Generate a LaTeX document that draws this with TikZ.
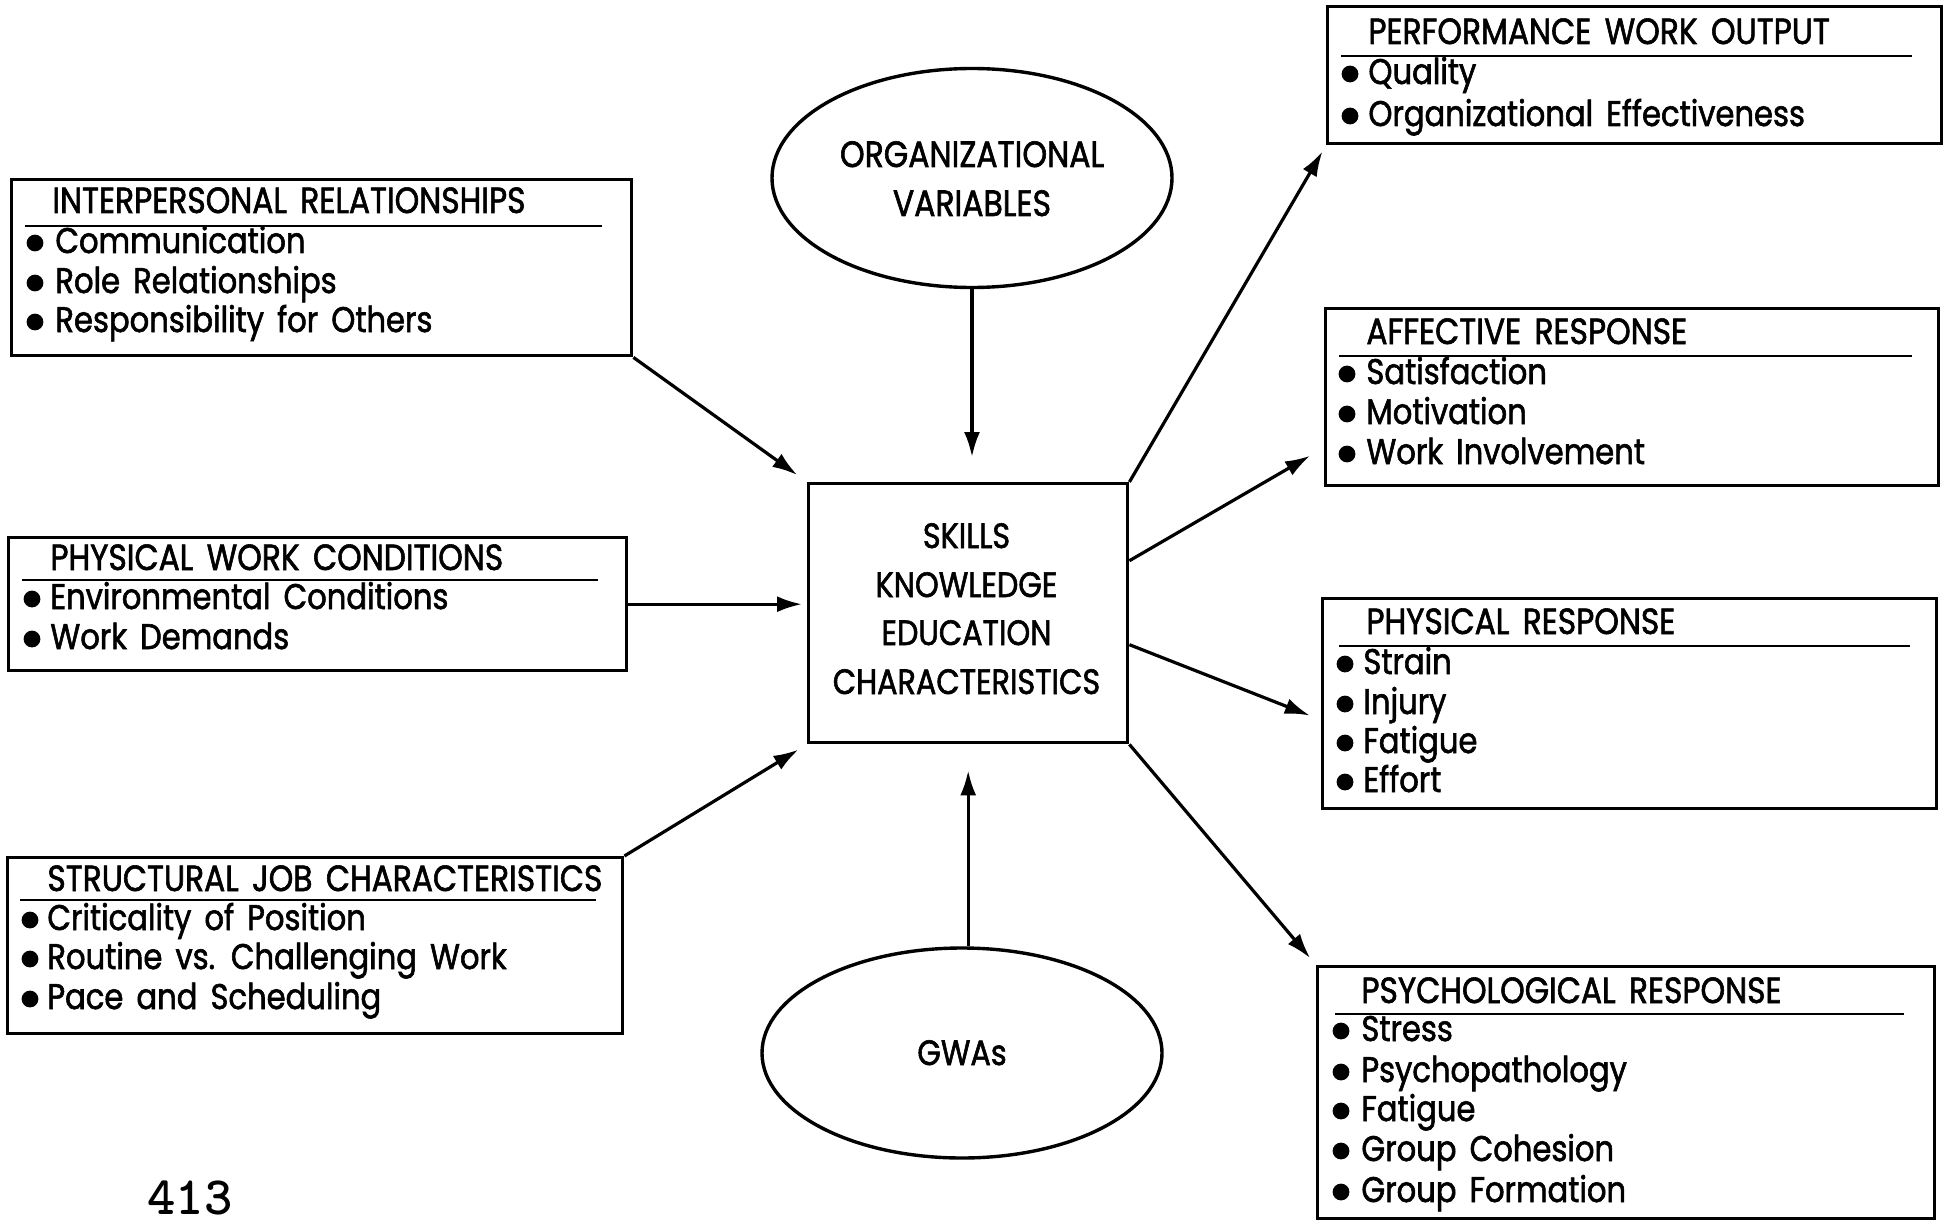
\documentclass[tikz,border=0pt]{standalone}
\usepackage{fontspec}
\setmainfont{Poppins}[WordSpace=1.6, FakeStretch=0.86, RawFeature={embolden=1.6}]
\usetikzlibrary{arrows.meta,shapes.geometric,calc}

\tikzset{
  panel/.style={draw, line width=1.7pt, inner sep=0pt, anchor=north west},
  heading/.style={anchor=base west, inner sep=0pt, font=\fontsize{18.2}{20}\selectfont},
  entry/.style={anchor=base west, inner sep=0pt, font=\fontsize{17.8}{20}\selectfont},
  core/.style={anchor=base, inner sep=0pt, font=\fontsize{17.6}{20}\selectfont},
  oval/.style={draw, ellipse, line width=1.7pt, inner sep=0pt},
  link/.style={line width=1.6pt, -{Latex[length=12.5pt,width=8pt]}},
  rulestyle/.style={line width=1.1pt}
}

% framed panel from its top-left to its bottom-right corner (pixel grid)
\newcommand{\panelbox}[5]{%
  \node[panel, minimum width={(#4-#2)*0.5pt}, minimum height={(#5-#3)*0.5pt}] (#1) at (#2,#3) {};}

% bulleted entries: prefix, bullet x, text x, list of y/text
\newcommand{\entries}[4]{%
  \foreach \yy/\lbl [count=\k] in {#4} {
    \fill (#2,\yy+2) circle[radius=4.2pt];
    \node[entry] (#1-\k) at (#3,\yy+12) {\lbl};
  }}

\begin{document}
\begin{tikzpicture}[x=0.5pt,y=-0.5pt]
\useasboundingbox (0,0) rectangle (1947,1225);

% ---------- left panels ----------
\panelbox{ir}{10}{178}{630}{354}
\node[heading] (ir-t) at (52,213) {INTERPERSONAL RELATIONSHIPS};
\draw[rulestyle] (25,226) -- (602,226);
\entries{ir}{35}{55}{241/Communication, 281/Role Relationships, 320/Responsibility for Others}

\panelbox{pw}{7}{536}{625}{669}
\node[heading] (pw-t) at (50,570) {PHYSICAL WORK CONDITIONS};
\draw[rulestyle] (22,580) -- (598,580);
\entries{pw}{32}{50}{597/Environmental Conditions, 637/Work Demands}

\panelbox{sj}{6}{856}{621}{1032}
\node[heading] (sj-t) at (47,891) {STRUCTURAL JOB CHARACTERISTICS};
\draw[rulestyle] (20,900) -- (596,900);
\entries{sj}{30}{47}{918/Criticality of Position, 957/Routine vs. Challenging Work, 997/Pace and Scheduling}

% ---------- right panels ----------
\panelbox{pf}{1326}{5}{1940}{142}
\node[heading] (pf-t) at (1368,44) {PERFORMANCE WORK OUTPUT};
\draw[rulestyle] (1341,56) -- (1912,56);
\entries{pf}{1350}{1368}{72/Quality, 114/Organizational Effectiveness}

\panelbox{af}{1324}{307}{1937}{484}
\node[heading] (af-t) at (1366,344) {AFFECTIVE RESPONSE};
\draw[rulestyle] (1339,356) -- (1912,356);
\entries{af}{1347}{1366}{372/Satisfaction, 412/Motivation, 452/Work Involvement}

\panelbox{pr}{1321}{597}{1935}{807}
\node[heading] (pr-t) at (1366,634) {PHYSICAL RESPONSE};
\draw[rulestyle] (1339,646) -- (1910,646);
\entries{pr}{1345}{1363}{662/Strain, 702/Injury, 741/Fatigue, 780/Effort}

\panelbox{ps}{1316}{965}{1933}{1217}
\node[heading] (ps-t) at (1361,1003) {PSYCHOLOGICAL RESPONSE};
\draw[rulestyle] (1335,1014) -- (1904,1014);
\entries{ps}{1341}{1361}{1029/Stress, 1070/Psychopathology, 1109/Fatigue, 1149/Group Cohesion, 1190/Group Formation}

% ---------- centre ----------
\panelbox{ctr}{807}{482}{1126}{741}
\node[core] (ctr-1) at (966.5,548) {SKILLS};
\node[core] (ctr-2) at (966.5,597) {KNOWLEDGE};
\node[core] (ctr-3) at (966.5,645) {EDUCATION};
\node[core] (ctr-4) at (966.5,694) {CHARACTERISTICS};

\node[oval, minimum width=200pt, minimum height=109.5pt] (org) at (972,178) {};
\node[core, font=\fontsize{18.3}{20}\selectfont] (org-1) at (972,167) {ORGANIZATIONAL};
\node[core, font=\fontsize{18.3}{20}\selectfont] (org-2) at (972,216) {VARIABLES};

\node[oval, minimum width=200pt, minimum height=105pt] (gwa) at (962,1053) {};
\node[core] (gwa-1) at (962,1065) {GWAs};

\node[anchor=base west, inner sep=0pt, font=\ttfamily\bfseries\fontsize{27}{30}\selectfont] (pg) at (147,1214) {413};

% ---------- connectors ----------
\draw[link, shorten >=12.5pt] (org.south) -- (org.south |- ctr.north);
\draw[link, shorten >=13pt] (ctr.south |- gwa.north) -- (ctr.south);

\draw[link, shorten >=6pt] (ir.south east) -- (ctr.north west);
\draw[link, shorten >=2.5pt] (pw.east) -- (pw.east -| ctr.west);
\draw[link, shorten >=5pt] (sj.north east) -- (ctr.south west);

\draw[link, shorten >=3.5pt] (ctr.north east) -- (pf.south west);
\draw[link, shorten >=8pt] ($(ctr.north east)!0.30!(ctr.south east)$) -- ($(af.north west)!0.78!(af.south west)$);
\draw[link, shorten >=6pt] ($(ctr.north east)!0.62!(ctr.south east)$) -- ($(pr.north west)!0.576!(pr.south west)$);
\draw[link, shorten >=4.5pt] (ctr.south east) -- (ps.north west);
\end{tikzpicture}
\end{document}
